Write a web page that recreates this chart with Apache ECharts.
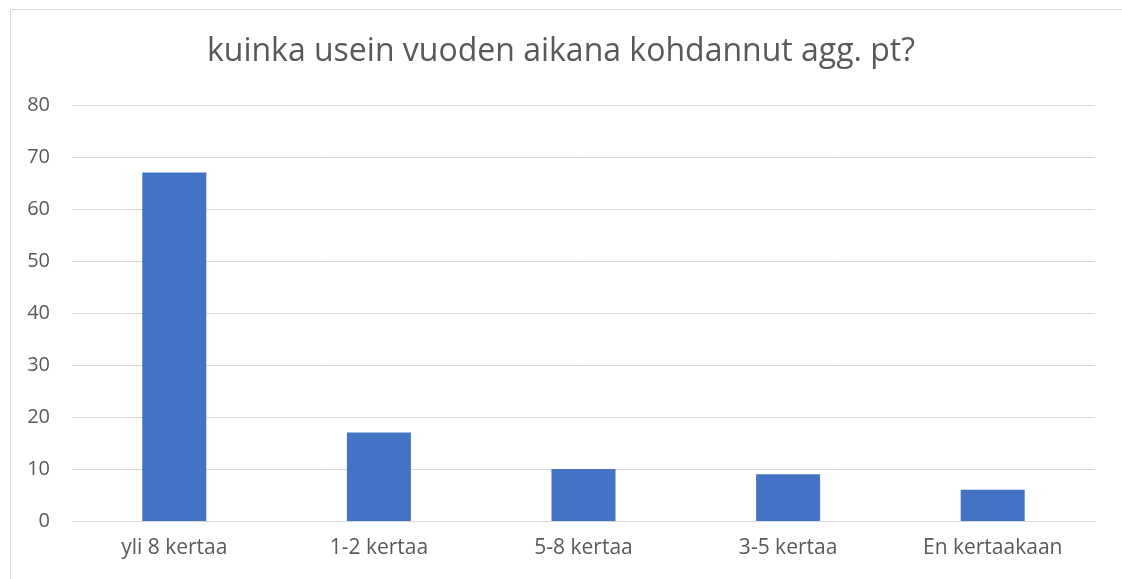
<!DOCTYPE html>
<html>
<head>
<meta charset="utf-8">
<script src="https://cdn.jsdelivr.net/npm/echarts@6/dist/echarts.min.js"></script>
<style>
html,body{margin:0;padding:0;background:#fff;}
#main{width:1122px;height:579px;}
</style>
</head>
<body>
<div id="main"></div>
<script>
const titleText = 'kuinka usein vuoden aikana kohdannut agg. pt?';
const categories = ['yli 8 kertaa', '1-2 kertaa', '5-8 kertaa', '3-5 kertaa', 'En kertaakaan'];
const values = [67, 17, 10, 9, 6];

const chart = echarts.init(document.getElementById('main'), null, {renderer: 'canvas'});
const font = '"Open Sans", "Noto Sans", sans-serif';
chart.setOption({
  animation: false,
  backgroundColor: '#fff',
  graphic: [{
    type: 'rect', left: 8, top: 7, z: -1,
    shape: {width: 1200, height: 700},
    style: {fill: 'none', stroke: '#d9d9d9', lineWidth: 1}
  }],
  title: {
    text: titleText, left: 'center', top: 31,
    textStyle: {fontFamily: font, fontSize: 32, fontWeight: 'normal', color: '#595959'}
  },
  grid: {left: 72, right: 27, top: 105, bottom: 58, containLabel: false},
  xAxis: {
    type: 'category', data: categories,
    axisLine: {lineStyle: {color: '#d9d9d9', width: 1}},
    axisTick: {show: false},
    axisLabel: {fontFamily: font, fontSize: 21, color: '#595959', margin: 17}
  },
  yAxis: {
    type: 'value', min: 0, max: 80, interval: 10,
    axisLine: {show: false}, axisTick: {show: false},
    splitLine: {lineStyle: {color: '#d9d9d9', width: 1}},
    axisLabel: {fontFamily: font, fontSize: 20, color: '#595959', margin: 22}
  },
  series: [{
    type: 'bar', data: values, barWidth: 64,
    itemStyle: {color: '#4472c4'}
  }]
});
</script>
</body>
</html>
